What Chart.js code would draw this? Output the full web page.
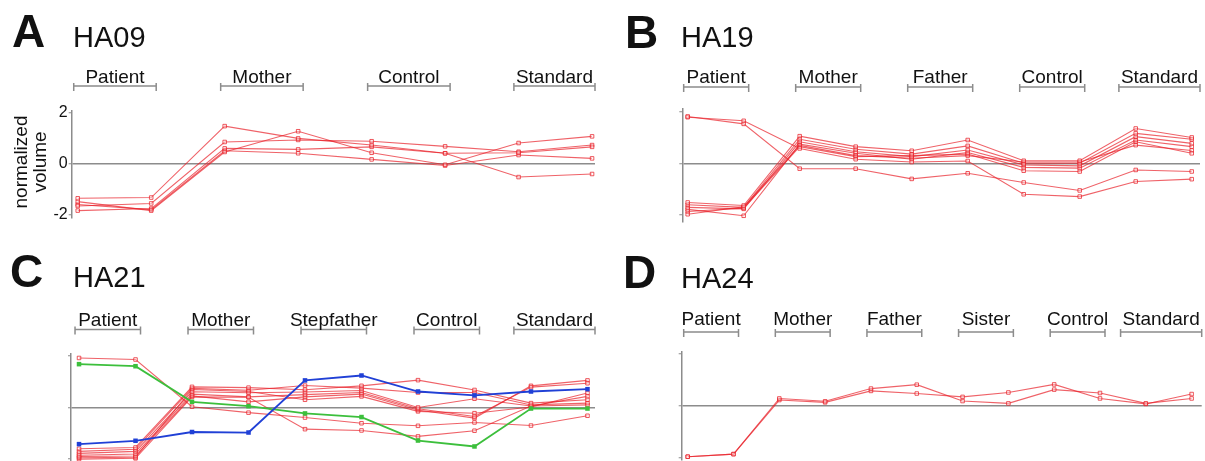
<!DOCTYPE html>
<html lang="en">
<head>
<meta charset="UTF-8">
<title>Normalized volume per family member</title>
<script src="https://cdn.jsdelivr.net/npm/chart.js"></script>
<style>
  body { margin: 0; background: #fff; }
  #wrap { position: relative; width: 1205px; height: 461px; overflow: hidden; }
  canvas { position: absolute; }
</style>
</head>
<body>
<div id="wrap">
  <canvas id="panelA" width="600" height="230" style="left:0;top:0"></canvas>
  <canvas id="panelB" width="605" height="230" style="left:600px;top:0"></canvas>
  <canvas id="panelC" width="600" height="231" style="left:0;top:230px"></canvas>
  <canvas id="panelD" width="605" height="231" style="left:600px;top:230px"></canvas>
</div>
<script>
// every group has two measurements, so a panel has 2 * groups points per line
const groupsA = ['Patient', 'Mother', 'Control', 'Standard'];
const groupsB = ['Patient', 'Mother', 'Father', 'Control', 'Standard'];
const groupsC = ['Patient', 'Mother', 'Stepfather', 'Control', 'Standard'];
const groupsD = ['Patient', 'Mother', 'Father', 'Sister', 'Control', 'Standard'];

const yTicks = [-2, 0, 2];

// HA09
const ha09 = [
  [-1.36, -1.33, 1.46, 0.98, 0.72, 0.40, 0.42, 0.65],
  [-1.49, -1.84, 0.45, 1.26, 0.42, -0.05, 0.80, 1.06],
  [-1.66, -1.56, 0.84, 0.92, 0.87, 0.67, 0.46, 0.72],
  [-1.84, -1.76, 0.59, 0.55, 0.65, 0.40, -0.53, -0.41],
  [-1.60, -1.80, 0.50, 0.40, 0.16, -0.08, 0.33, 0.20]
];

// HA19
const ha19 = [
  [1.83, 1.54, -0.21, -0.21, -0.61, -0.39, -0.75, -1.06, -0.26, -0.32],
  [1.80, 1.66, 0.58, 0.16, 0.05, 0.09, -1.21, -1.30, -0.71, -0.62],
  [-1.53, -1.65, 1.06, 0.65, 0.49, 0.91, 0.10, 0.10, 1.36, 1.01],
  [-1.62, -1.72, 0.94, 0.55, 0.36, 0.68, 0.00, 0.00, 1.17, 0.94],
  [-1.72, -1.78, 0.84, 0.45, 0.26, 0.52, -0.06, -0.10, 1.04, 0.78],
  [-1.80, -2.05, 0.75, 0.39, 0.16, 0.42, -0.16, -0.19, 0.91, 0.65],
  [-1.88, -1.75, 0.65, 0.26, 0.30, 0.36, -0.29, -0.32, 0.84, 0.39],
  [-1.99, -1.70, 0.70, 0.30, 0.20, 0.30, 0.05, 0.05, 0.71, 0.50]
];

// HA21
const ha21 = [
  [1.92, 1.86, 0.03, -0.20, -0.39, -0.61, -0.71, -0.58, -0.70, -0.32],
  [-1.60, -1.55, 0.80, 0.77, 0.69, 0.84, 1.06, 0.68, 0.17, 0.30],
  [-1.70, -1.62, 0.74, 0.67, 0.85, 0.75, 0.58, 0.58, 0.10, 0.17],
  [-1.78, -1.70, 0.61, 0.57, 0.60, 0.66, 0.00, 0.34, 0.06, 0.43],
  [-1.85, -1.80, 0.52, 0.41, 0.50, 0.58, -0.05, -0.35, 0.79, 0.94],
  [-1.90, -1.88, 0.45, 0.22, 0.41, 0.52, -0.10, -0.41, 0.84, 1.05],
  [-1.95, -1.93, 0.70, 0.62, 0.30, 0.43, -0.15, -0.22, 0.02, 0.56],
  [-2.00, -1.97, 0.41, 0.40, -0.84, -0.89, -1.12, -0.90, 0.06, 0.10]
];
const ha21Blue = [-1.42, -1.29, -0.95, -0.97, 1.05, 1.24, 0.62, 0.47, 0.62, 0.71];
const ha21Green = [1.68, 1.60, 0.22, 0.05, -0.23, -0.37, -1.28, -1.51, -0.04, -0.04];

// HA24
const ha24 = [
  [-1.95, -1.85, 0.29, 0.18, 0.67, 0.82, 0.19, 0.10, 0.63, 0.50, 0.10, 0.29],
  [-1.95, -1.85, 0.23, 0.14, 0.58, 0.48, 0.35, 0.52, 0.83, 0.29, 0.08, 0.46]
];

const FONT = '"Liberation Sans", Arial, Helvetica, sans-serif';
const AXIS_GREY = '#8c8c8c';
Chart.defaults.font.family = FONT;
Chart.defaults.animation = false;

function toPoints(values) {
  return values.map((v, i) => ({ x: i, y: v }));
}

function redLine(values) {
  return {
    data: toPoints(values),
    borderColor: 'rgba(232,32,40,0.7)',
    borderWidth: 1.1,
    pointStyle: 'rect',
    pointRadius: 2.5,
    pointBorderWidth: 1,
    pointBorderColor: 'rgba(232,32,40,0.75)',
    pointBackgroundColor: 'rgba(255,255,255,0.4)',
    tension: 0,
    clip: false
  };
}

function boldLine(values, color) {
  return {
    data: toPoints(values),
    borderColor: color,
    borderWidth: 1.8,
    pointStyle: 'rect',
    pointRadius: 3.2,
    pointBorderWidth: 0,
    pointBackgroundColor: color,
    tension: 0,
    clip: false
  };
}

// panel letter, title, bracketed group labels and the y title
const panelDecor = {
  id: 'panelDecor',
  afterDraw(chart, args, o) {
    const ctx = chart.ctx;
    const xs = chart.scales.x;
    const area = chart.chartArea;
    ctx.save();
    ctx.fillStyle = '#111';
    ctx.textBaseline = 'alphabetic';
    ctx.textAlign = 'left';
    ctx.font = 'bold 46px ' + FONT;
    ctx.fillText(o.letter, o.letterX, o.letterY);
    ctx.font = '29px ' + FONT;
    ctx.fillText(o.title, o.titleX, o.titleY);

    ctx.font = '19px ' + FONT;
    ctx.textAlign = 'center';
    ctx.strokeStyle = AXIS_GREY;
    ctx.lineWidth = 1.5;
    o.groups.forEach((name, k) => {
      let left = xs.getPixelForValue(2 * k) - 4;
      let right = xs.getPixelForValue(2 * k + 1) + 5;
      if (k === o.groups.length - 1) {
        right = area.right;
        left = Math.min(left, right - ctx.measureText(name).width - 4);
      }
      const y = o.bracketY;
      ctx.beginPath();
      ctx.moveTo(left, y); ctx.lineTo(right, y);
      ctx.moveTo(left, y - 3); ctx.lineTo(left, y + 5);
      ctx.moveTo(right, y - 3); ctx.lineTo(right, y + 5);
      ctx.stroke();
      ctx.fillText(name, (left + right) / 2, o.labelY);
    });

    if (o.yTitle) {
      ctx.font = '19px ' + FONT;
      ctx.textAlign = 'center';
      o.yTitle.forEach((line, i) => {
        ctx.save();
        ctx.translate(27 + i * 19, 162);
        ctx.rotate(-Math.PI / 2);
        ctx.fillText(line, 0, 0);
        ctx.restore();
      });
    }
    ctx.restore();
  }
};

function makePanel(id, datasets, lay, deco) {
  const canvas = document.getElementById(id);
  const W = canvas.width, H = canvas.height;
  new Chart(canvas, {
    type: 'line',
    data: { datasets: datasets },
    options: {
      responsive: false,
      animation: false,
      layout: {
        autoPadding: false,
        padding: {
          left: 0,
          right: W - lay.rightX,
          top: lay.zeroY - lay.yMax * lay.unit,
          bottom: H - (lay.zeroY - lay.yMin * lay.unit)
        }
      },
      plugins: {
        legend: { display: false },
        tooltip: { enabled: false },
        panelDecor: deco
      },
      scales: {
        x: {
          type: 'linear',
          display: false,
          min: lay.xMin,
          max: lay.xMax
        },
        y: {
          min: lay.yMin,
          max: lay.yMax,
          afterBuildTicks: s => { s.ticks = yTicks.map(v => ({ value: v })); },
          afterFit: s => {
            s.width = lay.axisX;
            s.paddingTop = 0;
            s.paddingBottom = 0;
          },
          border: { display: true, color: AXIS_GREY, width: 1.5 },
          grid: {
            drawOnChartArea: true,
            color: c => (c.tick && c.tick.value === 0 ? AXIS_GREY : 'rgba(0,0,0,0)'),
            lineWidth: 1.5,
            tickColor: AXIS_GREY,
            tickLength: 3,
            tickWidth: 1
          },
          ticks: {
            display: deco.tickLabels,
            padding: 1,
            color: '#111',
            font: { size: 16 },
            callback: v => String(v)
          }
        }
      }
    },
    plugins: [panelDecor]
  });
}

makePanel('panelA', ha09.map(redLine),
  { axisX: 71.7, rightX: 595, zeroY: 163.5, unit: 25.6, yMin: -2.1, yMax: 2.07, xMin: -0.082, xMax: 7.04 },
  { letter: 'A', letterX: 12, letterY: 47, title: 'HA09', titleX: 73, titleY: 47,
    groups: groupsA, labelY: 83, bracketY: 86, tickLabels: true, yTitle: ['normalized', 'volume'] });

makePanel('panelB', ha19.map(redLine),
  { axisX: 82.3, rightX: 600, zeroY: 163.3, unit: 25.6, yMin: -2.3, yMax: 2.12, xMin: -0.096, xMax: 9.148 },
  { letter: 'B', letterX: 25, letterY: 48, title: 'HA19', titleX: 81, titleY: 47,
    groups: groupsB, labelY: 83, bracketY: 87, tickLabels: false });

makePanel('panelC',
  [boldLine(ha21Blue, '#2040d6'), boldLine(ha21Green, '#3cbf3c')].concat(ha21.map(redLine)),
  { axisX: 71, rightX: 595, zeroY: 177.5, unit: 25.8, yMin: -2.05, yMax: 2.1, xMin: -0.142, xMax: 9.133 },
  { letter: 'C', letterX: 10, letterY: 57, title: 'HA21', titleX: 73, titleY: 57,
    groups: groupsC, labelY: 96, bracketY: 99.5, tickLabels: false });

makePanel('panelD', ha24.map(redLine),
  { axisX: 81.7, rightX: 601.7, zeroY: 176, unit: 26, yMin: -2.08, yMax: 2.08, xMin: -0.131, xMax: 11.22 },
  { letter: 'D', letterX: 23, letterY: 58, title: 'HA24', titleX: 81, titleY: 58,
    groups: groupsD, labelY: 95, bracketY: 102, tickLabels: false });
</script>
</body>
</html>
